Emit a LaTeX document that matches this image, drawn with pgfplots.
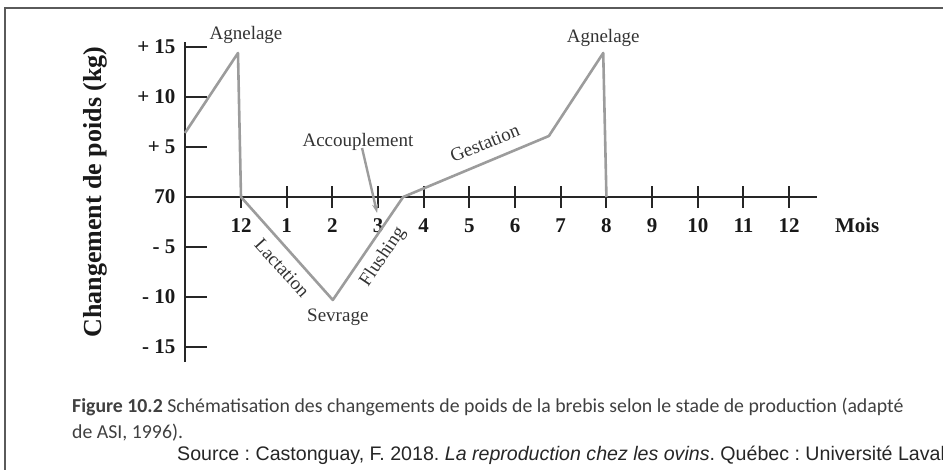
\documentclass[border=0pt]{standalone}
\usepackage{pgfplots}
\pgfplotsset{compat=1.18}
\usetikzlibrary{arrows.meta}
\usepackage{fontspec}
\setmainfont{Liberation Serif}
\newfontfamily\capfont{Carlito}
\newfontfamily\srcfont{Liberation Sans}
\definecolor{lineg}{HTML}{9C9C9C}
\definecolor{txtg}{HTML}{333333}
\definecolor{frameg}{HTML}{5A5A5A}
\definecolor{capg}{HTML}{404040}
\frenchspacing
\begin{document}
\begin{tikzpicture}
\path[use as bounding box] (0pt,0pt) rectangle (943pt,-470pt);
\draw[line width=2pt, frameg] (5pt,-490pt) -- (5pt,-8pt) -- (960pt,-8pt);
\begin{axis}[
  at={(185pt,-362pt)}, anchor=south west,
  scale only axis,
  width=632pt, height=320pt,
  xmin=-1.226, xmax=12.61,
  ymin=-16.5, ymax=15.5,
  axis x line=middle, axis y line=left,
  axis line style={-, line width=2pt, black!85},
  xtick={0,1,2,3,4,5,6,7,8,9,10,11,12},
  xticklabels={12,1,2,3,4,5,6,7,8,9,10,11,12},
  ytick={-15,-10,-5,0,5,10,15},
  yticklabels={- 15,- 10,- 5,70,+ 5,+ 10,+ 15},
  xtick align=center, ytick align=inside,
  major tick length=22pt,
  tick style={line width=2pt, black!85},
  tick label style={font=\fontsize{21}{24}\selectfont\bfseries, black!90},
  xticklabel style={anchor=north, yshift=-7pt},
  yticklabel style={anchor=east, xshift=-6pt},
  /pgf/number format/assume math mode=true,
  clip=false,
]
\addplot[lineg, line width=2.6pt, line join=round] coordinates {
  (-1.226,6.4) (-0.066,14.4) (0,0) (2.01,-10.3) (3.55,0) (6.74,6.1) (7.93,14.4) (8.0,0)
};
\addplot[lineg, line width=2.4pt, -{Stealth[length=9pt,width=6pt]}] coordinates {
  (2.65,4.9) (2.98,-1.6)
};
\begin{scope}[every node/.style={font=\fontsize{19}{22}\selectfont, txtg}]
\node at (axis cs:0.11,16.2) {Agnelage};
\node at (axis cs:7.93,15.9) {Agnelage};
\node at (axis cs:2.56,5.5) {Accouplement};
\node[rotate=22] at (axis cs:5.34,5.4) {Gestation};
\node[rotate=-48] at (axis cs:0.9,-7.1) {Lactation};
\node[rotate=56] at (axis cs:3.11,-6.0) {Flushing};
\node at (axis cs:2.12,-12.0) {Sevrage};
\end{scope}
\node[font=\fontsize{21}{24}\selectfont\bfseries, black!90] at (axis cs:13.49,-2.8) {Mois};
\end{axis}
\node[rotate=90, font=\fontsize{26}{30}\selectfont\bfseries, black!90] at (95pt,-192pt) {Changement de poids (kg)};
\node[anchor=west, inner sep=0pt, font=\capfont\fontsize{19.8}{22}\selectfont, capg] at (72pt,-407pt) {\textbf{Figure 10.2} Schématisation des changements de poids de la brebis selon le stade de production (adapté};
\node[anchor=west, inner sep=0pt, font=\capfont\fontsize{19.8}{22}\selectfont, capg] at (72pt,-433pt) {de ASI, 1996).};
\node[anchor=west, inner sep=0pt, font=\srcfont\fontsize{19.6}{22}\selectfont, black!85] at (177pt,-455pt) {Source : Castonguay, F. 2018. \textit{La reproduction chez les ovins}. Québec : Université Laval};
\end{tikzpicture}
\end{document}
